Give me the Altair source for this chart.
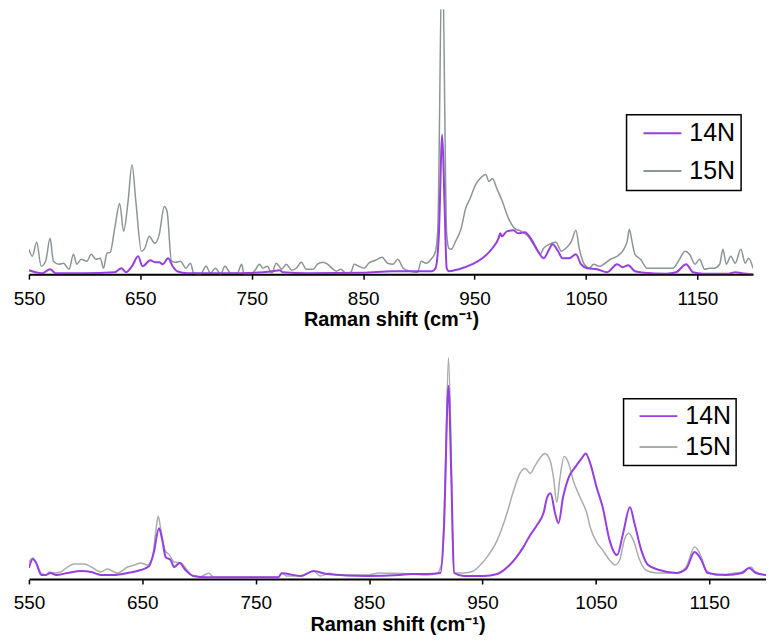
import altair as alt
import pandas as pd

SERIES = ["14N", "15N"]
TICKS = [550, 650, 750, 850, 950, 1050, 1150]
X_TITLE = "Raman shift (cm⁻¹)"

# ---- top panel ----
top_15n_x = [550, 553, 557, 561, 565, 569, 572, 577, 581, 586, 590, 593, 597, 602, 606, 610, 614, 617, 620, 623,
             627, 631.5, 635, 639, 642.5, 646, 651, 654, 658, 663, 667, 671.5, 674, 678, 682, 686, 691, 695, 698, 704,
             709, 713, 717.5, 722, 726, 731, 737, 741, 743, 749, 753, 757, 760, 764, 768, 772, 777, 781, 786, 790,
             794.5, 799, 805, 809, 814, 818, 822, 826, 830, 834.5, 839, 842, 846, 851, 855, 861, 867, 872, 877, 881,
             886, 892, 899, 902, 906.5, 911, 915, 917, 921, 925, 927, 929, 933, 938, 942, 946, 951, 955, 960, 963,
             966, 970, 975, 980.5, 986, 992, 998, 1004, 1009, 1012, 1017, 1023, 1028, 1032, 1037, 1041, 1044, 1048.5,
             1053, 1057, 1062, 1066, 1072, 1078, 1084, 1087, 1089, 1091, 1094, 1099, 1105, 1111, 1120, 1128, 1134,
             1139, 1143, 1148, 1152, 1156.5, 1161, 1165, 1170, 1173, 1176, 1180, 1184, 1189, 1193, 1196, 1200]
top_15n_y = [25, 18, 32, 8, 13, 36, 13, 10, 11, 5, 20, 10, 15, 13, 20, 15, 16, 6, 21, 22,
             46, 71, 43, 73, 110, 73, 23, 26, 38, 31, 40, 68, 63, 13, 12, 13, 6, 11, 1, 0,
             8, 1, 6, 0, 8, 1, 1, 10, 0, 0, 4, 10, 6, 8, 1, 11, 5, 10, 4, 6,
             12, 5, 5, 10, 12, 10, 6, 3, 5, 1, 2, 10, 8, 6, 11, 14, 17, 11, 10, 15,
             6, 3, 2, 13, 11, 15, 23, 45, 330, 40, 26, 25, 33, 46, 66, 76, 90, 96, 100, 93,
             96, 86, 73, 56, 46, 43, 38, 28, 20, 26, 30, 32, 23, 26, 33, 44, 26, 10,
             6, 10, 8, 10, 15, 18, 25, 33, 45, 35, 20, 15, 6, 6, 6, 6, 15,
             23, 20, 10, 15, 5, 6, 6, 10, 25, 10, 18, 11, 25, 11, 16, 6]

top_14n_x = [550, 556, 562, 569, 574, 600, 627, 633, 637, 642.5, 648, 652, 659, 663, 667, 670, 675, 679, 683, 692,
             740, 769, 775, 778, 800, 850, 876, 900, 912, 915, 918, 921, 923, 925, 927, 936, 948, 957, 966, 971.5,
             973, 974.5, 979, 985, 989, 995, 1001, 1007, 1012, 1017, 1020, 1025, 1029, 1035, 1041, 1045.5, 1051,
             1060, 1069, 1078, 1083, 1088, 1094, 1102, 1122, 1131, 1140, 1146, 1155, 1178, 1184, 1190, 1200]
top_14n_y = [4, 2, 1, 5, 1, 1, 2, 6, 2, 8, 18, 8, 14, 12, 12, 10, 16, 8, 3, 1,
             1, 3, 4, 2, 1, 1.5, 3, 3, 3, 6, 40, 140, 73, 6, 3, 5, 10, 16, 26, 36,
             41, 38, 43, 44, 41, 42, 35, 23, 16, 25, 30, 23, 16, 16, 20, 10, 6,
             5, 2, 10, 7, 9, 3, 1.5, 0.5, 2, 10, 2, 0.5, 0.5, 2, 1, 0]

# ---- bottom panel ----
bot_15n_x = [550, 553.5, 556, 561, 565, 568, 572.5, 578, 584, 590, 599, 605, 613.5, 619, 628, 637, 643, 648.6, 654.5,
             659, 662, 664, 666, 670, 674, 678, 684, 689.6, 695, 701, 708.6, 713, 770, 773, 777, 789, 801, 807, 815,
             821, 848, 859, 872, 887, 901, 910, 914.6, 917.5, 920, 922.5, 924, 925.7, 933.6, 942, 948, 954, 963,
             971.6, 977.5, 983, 987.7, 992, 996.5, 1001, 1005, 1009.6, 1012.6, 1015.5, 1018, 1022, 1026, 1030, 1036,
             1042, 1045, 1050.6, 1056, 1062, 1067, 1071, 1075, 1079, 1083, 1088.6, 1094, 1103, 1121, 1129.5, 1137,
             1143, 1147, 1156, 1173, 1179, 1186.5, 1191, 1200]
bot_15n_y = [17, 21, 17, 6, 4, 7, 6, 7, 12, 15, 15, 12, 7, 10, 6, 12, 14, 16, 14,
             22, 49, 63, 52, 29, 24, 17, 16, 9, 3, 2.3, 5.7, 1.7, 1.7, 6, 3, 3, 8, 3, 5.7,
             4, 4, 6, 5.7, 5, 4, 5.7, 19, 119, 222, 119, 19, 6, 6, 8, 14, 22, 39,
             66, 89, 106, 111, 106, 114, 122, 126, 119, 102, 77, 99, 123, 116, 99, 82,
             66, 52, 37, 29, 19, 14, 19, 39, 46, 39, 19, 9, 6, 6, 12, 32,
             22, 9, 4, 6, 7, 12, 7, 4]

bot_14n_x = [550, 553.5, 556, 561, 565, 569, 574, 584, 596, 605, 613.5, 625, 637, 648.6, 656, 660, 664.7, 667.6,
             670.6, 675, 678, 683, 688, 695, 707, 770, 773, 790, 801, 812.5, 848, 877, 887, 901, 913, 916, 920,
             922.5, 925, 933.6, 951, 963, 973, 980, 986, 992, 998, 1004, 1007, 1010, 1014, 1017, 1021, 1026,
             1031.6, 1037.4, 1041, 1045, 1050.6, 1056, 1062, 1068.7, 1074, 1080, 1084, 1090, 1096, 1106, 1121,
             1129.5, 1137, 1143, 1148.5, 1164.6, 1179, 1185, 1191, 1200]
bot_14n_y = [11, 20, 17, 4, 4, 6, 4, 6, 8, 7, 4, 4, 6, 9, 13, 26, 51, 39,
             22, 19, 12, 16, 9, 3, 1.7, 1.7, 5.7, 3, 8, 5, 3, 4, 5, 5, 6, 52, 194,
             102, 6, 3, 3, 5, 13, 22, 32, 44, 54, 67, 82, 86, 66, 56, 82, 102,
             112, 121, 126, 116, 92, 72, 39, 24, 46, 72, 56, 29, 14, 9, 6,
             10, 27, 19, 6, 4, 6, 11, 6, 4]

PURPLE = "#963ee0"
GRAY_TOP = "#8c9595"
GRAY_BOT = "#a9adad"
FONT = "Liberation Sans"


def frame(xs, ys, name):
    return pd.DataFrame({"wn": xs, "intensity": ys, "sample": name})


def panel(x14, y14, x15, y15, gray, width, height, ymax, lx, ly, pad, rowpad, symoff, yaxis):
    xenc = alt.X("wn:Q", scale=alt.Scale(domain=[550, 1200], nice=False, zero=False),
                 axis=alt.Axis(values=TICKS, format="d", title=X_TITLE, grid=False,
                               labelFontSize=19, labelFont=FONT, labelColor="black",
                               labelPadding=10, labelFlush=False, labelOverlap=False,
                               tickSize=5, tickColor="black", tickWidth=1.5,
                               domainColor="black", domainWidth=2,
                               titleFontSize=20, titleFont=FONT, titleFontWeight="bold",
                               titleColor="black", titlePadding=2))
    yenc = alt.Y("intensity:Q", scale=alt.Scale(domain=[0, ymax], nice=False, zero=True), axis=yaxis)
    cenc = alt.Color("sample:N",
                     scale=alt.Scale(domain=SERIES, range=[PURPLE, gray]),
                     legend=alt.Legend(orient="none", legendX=lx, legendY=ly, title=None,
                                       strokeColor="black", fillColor="white", padding=pad,
                                       symbolType="stroke", symbolSize=1444, symbolStrokeWidth=2,
                                       symbolOffset=symoff, clipHeight=25,
                                       labelFontSize=25, labelFont=FONT,
                                       labelExpr="datum.label + '\u2002'",
                                       labelColor="black", labelOffset=7, rowPadding=rowpad))
    g = alt.Chart(frame(x15, y15, "15N")).mark_line(strokeWidth=1.5, clip=True, interpolate="monotone").encode(
        x=xenc, y=yenc, color=cenc)
    p = alt.Chart(frame(x14, y14, "14N")).mark_line(strokeWidth=2, clip=True, interpolate="monotone").encode(
        x=xenc, y=yenc, color=cenc)
    return alt.layer(g, p).properties(width=width, height=height)


top = panel(top_14n_x, top_14n_y, top_15n_x, top_15n_y, GRAY_TOP, 727, 266, 266,
            600, 106, 6, 12, 10, None)
bot_axis = alt.Axis(labels=False, domain=False, grid=False, ticks=True, tickSize=20,
                    tickColor="white", title=None, tickCount=2)
bottom = panel(bot_14n_x, bot_14n_y, bot_15n_x, bot_15n_y, GRAY_BOT, 740, 242, 242,
               597, 61, 5, 5, 10, bot_axis)

chart = alt.vconcat(top, bottom, spacing=8).resolve_scale(
    color="independent", x="independent", y="independent"
).resolve_legend(color="independent").properties(
    padding={"left": 0, "top": 0, "right": 0, "bottom": 0}
).configure_view(stroke=None).configure_legend(strokeWidth=1.5)

chart.save("out.html", embed_options={"renderer": "svg", "actions": False})
